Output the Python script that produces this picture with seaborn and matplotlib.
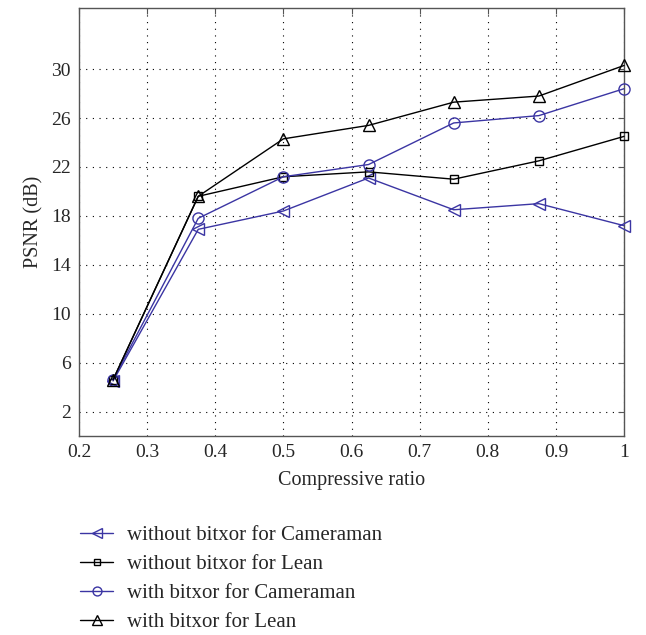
import matplotlib
matplotlib.use("Agg")
import matplotlib.pyplot as plt
import seaborn as sns
import pandas as pd

ratios = [0.25, 0.375, 0.5, 0.625, 0.75, 0.875, 1.0]
without_cameraman = [4.5, 16.9, 18.4, 21.1, 18.5, 19.0, 17.2]
without_lean = [4.6, 19.6, 21.2, 21.6, 21.0, 22.5, 24.5]
with_cameraman = [4.6, 17.8, 21.2, 22.2, 25.6, 26.2, 28.4]
with_lean = [4.6, 19.6, 24.3, 25.4, 27.3, 27.8, 30.3]
labels = ["without bitxor for Cameraman", "without bitxor for Lean",
          "with bitxor for Cameraman", "with bitxor for Lean"]

sns.set_style("white")
plt.rcParams['font.family'] = ['Liberation Serif', 'DejaVu Serif']

blue = "#3b35a3"
colors = [blue, "black", blue, "black"]
markers = ["<", "s", "o", "^"]
msizes = [9, 6, 8, 9]
series = [without_cameraman, without_lean, with_cameraman, with_lean]

fig = plt.figure(figsize=(6.46, 6.35), dpi=100)
ax = fig.add_axes([0.1223, 0.3134, 0.8437, 0.674])

for vals, lab, c, m, ms in zip(series, labels, colors, markers, msizes):
    df = pd.DataFrame({"x": ratios, "y": vals})
    sns.lineplot(data=df, x="x", y="y", ax=ax, color=c, marker=m, markersize=ms,
                 markerfacecolor="none", markeredgecolor=c, markeredgewidth=1.0,
                 linewidth=1.0, label=lab, clip_on=False, zorder=3)

ax.set_xlim(0.2, 1.0)
ax.set_ylim(0, 35)
ax.set_xticks([0.2, 0.3, 0.4, 0.5, 0.6, 0.7, 0.8, 0.9, 1.0])
ax.set_xticklabels(["0.2", "0.3", "0.4", "0.5", "0.6", "0.7", "0.8", "0.9", "1"])
ax.set_yticks([2, 6, 10, 14, 18, 22, 26, 30])
ax.grid(True, linestyle=(0, (1, 5)), color="black", linewidth=0.8)
ax.tick_params(direction="in", length=4, labelsize=14, color="#555555",
               top=True, right=True, pad=6)
for s in ax.spines.values():
    s.set_color("#555555")
    s.set_linewidth(1.0)
ax.set_xlabel("Compressive ratio", fontsize=14.5, labelpad=7)
ax.set_ylabel("PSNR (dB)", fontsize=14.5, labelpad=5)

ax.get_legend().remove()
handles, labs = ax.get_legend_handles_labels()
fig.legend(handles, labs, loc="upper left", bbox_to_anchor=(0.111, 0.185),
           frameon=False, fontsize=15, handlelength=1.6, labelspacing=0.45,
           handletextpad=0.65, borderaxespad=0, markerscale=0.8)

fig.savefig("out.png", dpi=100)
